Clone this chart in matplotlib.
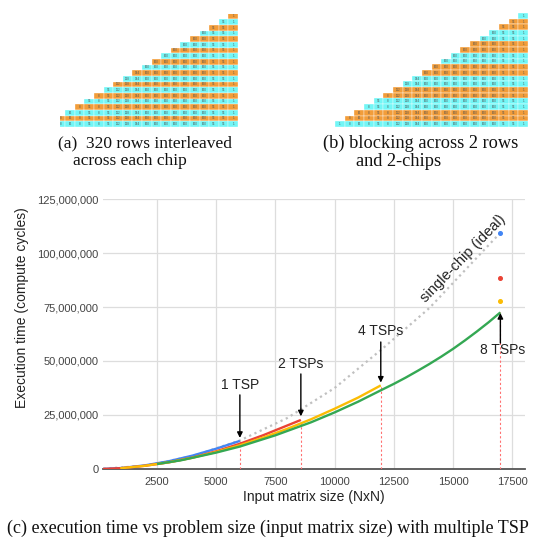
"""
Row layouts on two chips and execution time vs matrix size for multiple TSPs
"""

# Imports
import matplotlib
matplotlib.use('Agg')
import matplotlib.pyplot as plt
from matplotlib.patches import Rectangle
from matplotlib.ticker import FuncFormatter

plt.rcParams['font.family'] = ['Liberation Sans', 'DejaVu Sans']

# Figure size in pixels
W, H = 536, 543

# Row colours of the two triangular layouts (top row first)
ORANGE = '#f29d3a'
CYAN = '#72f6f6'
rows_interleaved = [ORANGE, CYAN] * 10
rows_blocked = [CYAN] + [ORANGE, ORANGE, CYAN, CYAN] * 4 + [ORANGE, ORANGE, CYAN]

# Numbers written in the cells, one per column
cells_interleaved = ['0', '8', '16', '8', '56', '8', '56', '112', '128', '144',
                     '160', '160', '160', '160', '160', '160', '160', '56', '56', '1']
cells_blocked = ['1', '8', '16', '8', '56', '8', '112', '128', '144', '160',
                 '160', '160', '160', '160', '160', '160', '160', '56', '56', '1']

# Execution time (cycles) vs input matrix size N
n_1tsp = [200, 1000, 2000, 3000, 4000, 5000, 6000]
t_1tsp = [0.02e6, 0.45e6, 1.7e6, 3.6e6, 6.2e6, 9.4e6, 13.0e6]

n_2tsp = [200, 1000, 2000, 3000, 4000, 5000, 6000, 7000, 8575]
t_2tsp = [0.02e6, 0.4e6, 1.5e6, 3.1e6, 5.3e6, 8.2e6, 11.7e6, 15.7e6, 22.7e6]

n_4tsp = [950, 2000, 3000, 4000, 5000, 6000, 7000, 8000, 9000, 10000, 11000, 11950]
t_4tsp = [0.35e6, 1.5e6, 3.1e6, 5.2e6, 7.9e6, 11.0e6, 14.6e6, 18.6e6, 23.0e6,
          27.9e6, 33.1e6, 38.7e6]

n_8tsp = [2500, 3500, 5000, 6000, 7500, 9000, 10000, 11000, 12000, 12500, 13000,
          13500, 14000, 14500, 15000, 15500, 16000, 16500, 17000]
t_8tsp = [2.3e6, 4.0e6, 7.6e6, 10.4e6, 15.6e6, 21.6e6, 26.2e6, 31.2e6, 36.7e6,
          39.4e6, 42.3e6, 45.4e6, 48.6e6, 52.0e6, 55.6e6, 59.5e6, 63.6e6,
          67.9e6, 72.5e6]

n_ideal = [0, 2000, 4000, 6000, 8000, 10000, 12000, 14000, 17000]
t_ideal = [0, 1.5e6, 6.0e6, 13.2e6, 23.6e6, 37.5e6, 55.5e6, 74.5e6, 109.4e6]

# Projected points at N = 17000
n_proj = 17000
t_proj = [109.4e6, 88.4e6, 77.8e6]

series_colors = ['#4285f4', '#ea4335', '#fbbc04', '#34a853']
tsp_labels = ['1 TSP', '2 TSPs', '4 TSPs', '8 TSPs']

x_ticks = [2500, 5000, 7500, 10000, 12500, 15000, 17500]
y_ticks = [0, 25e6, 50e6, 75e6, 100e6, 125e6]


def px_box(left, top, right, bottom):
    return [left / W, 1 - bottom / H, (right - left) / W, (bottom - top) / H]


def draw_triangle(ax, row_colors, labels, x_left):
    nrows = len(row_colors)
    ncols = len(labels)
    for r, color in enumerate(row_colors):
        y = nrows - 1 - r
        for c in range(ncols - 1 - r, ncols):
            ax.add_patch(Rectangle((c, y), 1, 1, facecolor=color,
                                   edgecolor='white', linewidth=0.25))
            ax.text(c + 0.5, y + 0.5, labels[c], fontsize=2.2, color='#555555',
                    ha='center', va='center', clip_on=True)
    ax.set_xlim(x_left, ncols)
    ax.set_ylim(0, nrows)
    ax.axis('off')


fig = plt.figure(figsize=(W / 100, H / 100), dpi=100)

# (a) and (b) layouts
ax_a = fig.add_axes(px_box(60, 13.5, 238, 127))
draw_triangle(ax_a, rows_interleaved, cells_interleaved, 1.46)
ax_b = fig.add_axes(px_box(335, 13, 528, 127))
draw_triangle(ax_b, rows_blocked, cells_blocked, 0)

serif = dict(family='Liberation Serif', color='#111111', va='center')
fig.text(58 / W, 1 - 143 / H, '(a)  320 rows interleaved', fontsize=12.5, **serif)
fig.text(73 / W, 1 - 161 / H, 'across each chip', fontsize=12.5, **serif)
fig.text(323 / W, 1 - 143 / H, '(b) blocking across 2 rows', fontsize=13.2, **serif)
fig.text(356 / W, 1 - 161 / H, 'and 2-chips', fontsize=13.2, **serif)
fig.text(268 / W, 1 - 528 / H,
         '(c) execution time vs problem size (input matrix size) with multiple TSP',
         ha='center', fontsize=13.0, **serif)

# (c) execution time chart
ax = fig.add_axes(px_box(103, 199, 525, 469))
ax.set_xlim(220, 18040)
ax.set_ylim(0, 125e6)
ax.set_xticks(x_ticks)
ax.set_yticks(y_ticks)
ax.yaxis.set_major_formatter(FuncFormatter(lambda v, p: f'{int(v):,}'))
ax.tick_params(length=0, labelsize=8, labelcolor='#444444')
ax.tick_params(axis='x', pad=6)
ax.tick_params(axis='y', pad=3)
ax.grid(True, color='#dddddd', linewidth=0.9)
ax.set_axisbelow(True)
for side in ['top', 'right', 'left']:
    ax.spines[side].set_visible(False)
ax.spines['bottom'].set_color('#555555')
ax.spines['bottom'].set_linewidth(1.3)
ax.spines['bottom'].set_zorder(1)

ends = [(n_1tsp[-1], t_1tsp[-1]), (n_2tsp[-1], t_2tsp[-1]),
        (n_4tsp[-1], t_4tsp[-1]), (n_8tsp[-1], t_8tsp[-1])]

# Red guides from the axis up to where each curve stops
for n_end, t_end in ends:
    ax.plot([n_end, n_end], [0, t_end], color='#ff7070', linewidth=0.8,
            linestyle=(0, (2, 2)), zorder=2)

ax.plot(n_ideal, t_ideal, color='#c0c0c0', linewidth=1.6, linestyle=(0, (1, 1.6)),
        zorder=3)
for n, t, color in zip([n_1tsp, n_2tsp, n_4tsp, n_8tsp],
                       [t_1tsp, t_2tsp, t_4tsp, t_8tsp], series_colors):
    ax.plot(n, t, color=color, linewidth=1.7, solid_capstyle='butt', zorder=4)
for t, color in zip(t_proj, series_colors[:3]):
    ax.plot(n_proj, t, 'o', color=color, markersize=2.6, zorder=5)

# Labels with arrows at the end of each curve
label_y = [38.9e6, 48.6e6, 63.9e6, 55.0e6]
arrow_from = [34.3e6, 44.0e6, 58.8e6, 58.3e6]
arrow_to = [14.4e6, 24.4e6, 40.0e6, 72.2e6]
for (n_end, t_end), lab, ly, a0, a1 in zip(ends, tsp_labels, label_y, arrow_from, arrow_to):
    x_lab = n_end + 100 if lab == '8 TSPs' else n_end
    ax.text(x_lab, ly, lab, fontsize=10, color='#222222', ha='center', va='center',
            zorder=7)
    ax.annotate('', xy=(n_end, a1), xytext=(n_end, a0),
                arrowprops=dict(arrowstyle='-|>', color='black', lw=1.0,
                                mutation_scale=8, shrinkA=0, shrinkB=0), zorder=6)

ax.text(15443, 97.2e6, 'single-chip (ideal)', fontsize=10.5, color='#222222',
        rotation=46, ha='center', va='center', rotation_mode='anchor')

fig.text(314 / W, 1 - 497 / H, 'Input matrix size (NxN)', fontsize=10,
         color='#222222', ha='center', va='center')
fig.text(22 / W, 1 - 308 / H, 'Execution time (compute cycles)', fontsize=10,
         color='#222222', ha='center', va='center', rotation=90)

plt.savefig('out.png', dpi=100)
plt.close()
